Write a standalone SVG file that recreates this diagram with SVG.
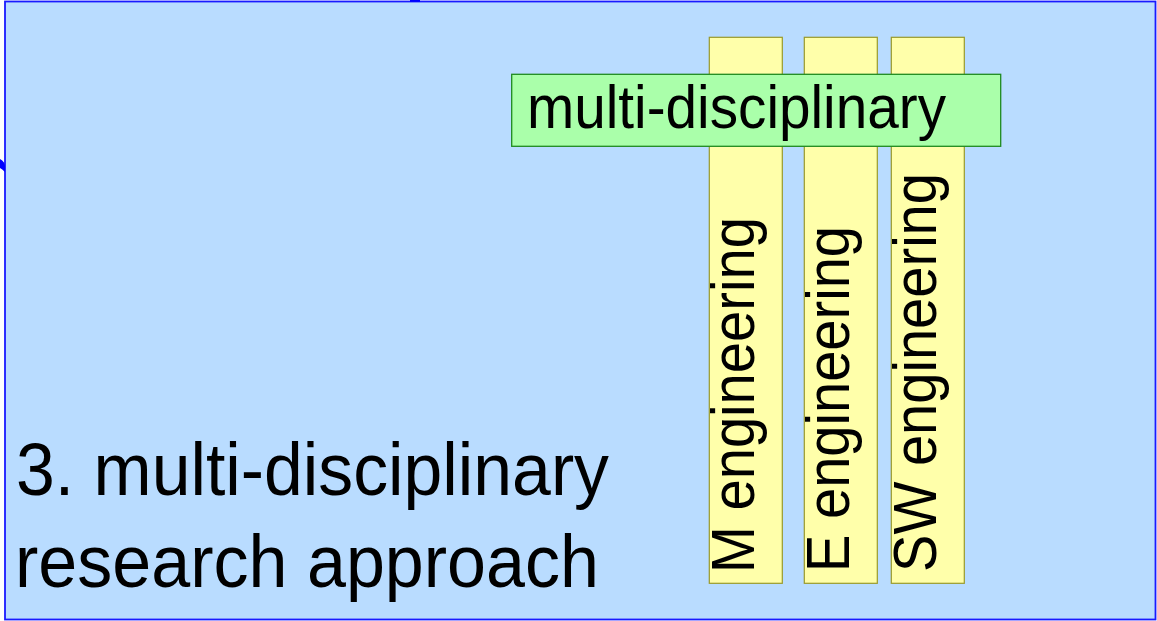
<svg xmlns="http://www.w3.org/2000/svg" width="1157" height="621" viewBox="0 0 1157 621">
  <style>
    .t { font-family: "Liberation Sans", Arial, sans-serif; fill: #000; }
    .bar { fill: #ffffaa; stroke: #99992a; stroke-width: 1.2; }
    .box { fill: #aaffaa; stroke: #1f8a1f; stroke-width: 1.3; }
  </style>
  <defs>
    <clipPath id="clipM"><rect x="709.3" y="37.3" width="73" height="546"/></clipPath>
    <clipPath id="clipE"><rect x="804.3" y="37.3" width="73" height="546"/></clipPath>
    <clipPath id="clipSW"><rect x="891.3" y="37.3" width="73" height="546"/></clipPath>
  </defs>
  <rect x="0" y="0" width="1157" height="621" fill="#ffffff"/>
  <g id="background">
    <rect x="5" y="1.5" width="1150.5" height="618" fill="#b9dcff" stroke="#1a1aff" stroke-width="1.8"/>
    <rect x="410" y="0" width="10" height="1.8" fill="#0000ff"/>
    <path d="M0,159 Q5,162 5,166 L5,172 Q2,169 0,168 Z" fill="#0000ff"/>
  </g>
  <g id="title">
    <text class="t" x="16" y="495" font-size="75" textLength="593" lengthAdjust="spacingAndGlyphs">3. multi-disciplinary</text>
    <text class="t" x="15" y="586.5" font-size="75" textLength="584" lengthAdjust="spacingAndGlyphs">research approach</text>
  </g>
  <g id="m-engineering">
    <rect class="bar" x="709.3" y="37.3" width="73" height="546"/>
    <g clip-path="url(#clipM)">
      <text class="t" transform="translate(754,573) rotate(-90)" font-size="62" textLength="356" lengthAdjust="spacingAndGlyphs">M engineering</text>
    </g>
  </g>
  <g id="e-engineering">
    <rect class="bar" x="804.3" y="37.3" width="73" height="546"/>
    <g clip-path="url(#clipE)">
      <text class="t" transform="translate(848.5,572) rotate(-90)" font-size="62" textLength="346" lengthAdjust="spacingAndGlyphs">E engineering</text>
    </g>
  </g>
  <g id="sw-engineering">
    <rect class="bar" x="891.3" y="37.3" width="73" height="546"/>
    <g clip-path="url(#clipSW)">
      <text class="t" transform="translate(936,572) rotate(-90)" font-size="62" textLength="399" lengthAdjust="spacingAndGlyphs">SW engineering</text>
    </g>
  </g>
  <g id="multi-disciplinary">
    <rect class="box" x="511.7" y="74.3" width="489" height="72"/>
    <text class="t" x="527" y="127.7" font-size="61" textLength="419" lengthAdjust="spacingAndGlyphs">multi-disciplinary</text>
  </g>
  <g id="connectors"/>
</svg>
